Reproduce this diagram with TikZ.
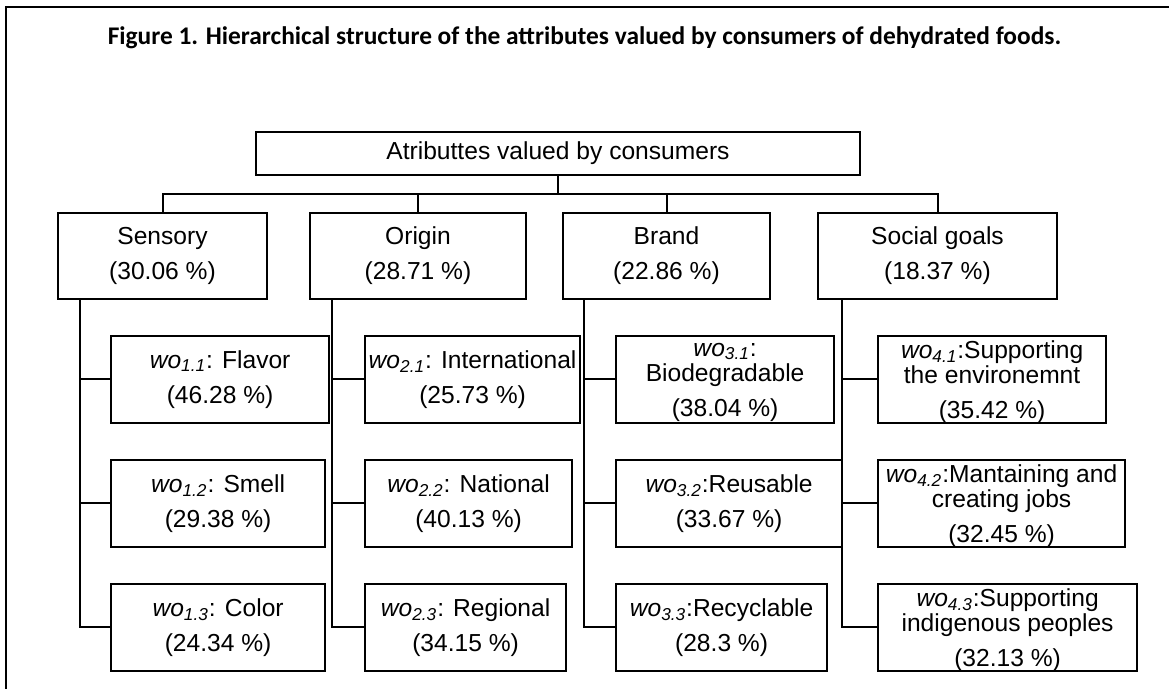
\documentclass[tikz,border=0pt]{standalone}
\usepackage{fontspec}
\setmainfont{Liberation Sans}
\newfontfamily\titlefont{Carlito}
\newcommand{\wo}[1]{\textit{wo\textsubscript{#1}}}
\tikzset{
  box/.style = {draw, line width=1.1pt, rectangle, align=center, inner sep=1pt,
    minimum height=43.5pt, font=\fontsize{12.3pt}{12.5pt}\selectfont},
  low/.style = {text depth=-2.4pt},
  link/.style = {line width=1pt},
}
\begin{document}
\begin{tikzpicture}[x=0.5pt, y=-0.5pt]
        \useasboundingbox (0,0) rectangle (1169,689);
        \draw [line width=0.6pt] (6,689) -- (6,7) -- (1169,7);
        \node (title) at (584.5,38) {\titlefont\bfseries\fontsize{12.7pt}{14pt}\selectfont
          Figure 1. Hierarchical structure of the attributes valued by consumers of dehydrated foods.};
        % top levels
        \node [box, minimum width=302pt, minimum height=21.5pt] (root) at (558,153.5) {Atributtes valued by consumers};
        \node [box, minimum width=104.5pt, minimum height=43pt] (sens) at (162.5,256) {Sensory\\[5pt](30.06 \%)};
        \node [box, minimum width=108pt, minimum height=43pt] (orig) at (418,256) {Origin\\[5pt](28.71 \%)};
        \node [box, minimum width=103.5pt, minimum height=43pt] (brand) at (666.5,256) {Brand\\[5pt](22.86 \%)};
        \node [box, minimum width=119.5pt, minimum height=43pt] (soc) at (937.5,256) {Social goals\\[5pt](18.37 \%)};
        % sensory
        \node [box, anchor=west, minimum width=109pt] (c11) at (110,379.5) {\wo{1.1}: Flavor\\[5pt](46.28 \%)};
        \node [box, anchor=west, minimum width=107pt] (c12) at (110,503.5) {\wo{1.2}: Smell\\[5pt](29.38 \%)};
        \node [box, anchor=west, minimum width=107pt] (c13) at (110,627.5) {\wo{1.3}: Color\\[5pt](24.34 \%)};
        % origin
        \node [box, anchor=west, minimum width=107.5pt] (c21) at (364,379.5) {\wo{2.1}: International\\[5pt](25.73 \%)};
        \node [box, anchor=west, minimum width=103.5pt] (c22) at (364,503.5) {\wo{2.2}: National\\[5pt](40.13 \%)};
        \node [box, anchor=west, minimum width=100.5pt] (c23) at (364,627.5) {\wo{2.3}: Regional\\[5pt](34.15 \%)};
        % brand
        \node [box, low, anchor=west, minimum width=109pt] (c31) at (615,379.5) {\wo{3.1}:\\Biodegradable\\[5pt](38.04 \%)};
        \node [box, anchor=west, minimum width=113pt] (c32) at (615,503.5) {\wo{3.2}:Reusable\\[5pt](33.67 \%)};
        \node [box, anchor=west, minimum width=105.5pt] (c33) at (615,627.5) {\wo{3.3}:Recyclable\\[5pt](28.3 \%)};
        % social goals
        \node [box, low, anchor=west, minimum width=114pt] (c41) at (877,379.5) {\wo{4.1}:Supporting\\the environemnt\\[5pt](35.42 \%)};
        \node [box, low, anchor=west, minimum width=123.5pt] (c42) at (877,503.5) {\wo{4.2}:Mantaining and\\creating jobs\\[5pt](32.45 \%)};
        \node [box, low, anchor=west, minimum width=129.5pt] (c43) at (877,627.5) {\wo{4.3}:Supporting\\indigenous peoples\\[5pt](32.13 \%)};
        % bus
        \coordinate (bus) at (0,194);
        \draw [link] (sens.north) |- (soc.north |- bus) -- (soc.north);
        \draw [link] (root.south) -- (root.south |- bus);
        \draw [link] (orig.north) -- (orig.north |- bus);
        \draw [link] (brand.north) -- (brand.north |- bus);
        % trunks
        \coordinate (t1) at (80,0);
        \coordinate (t2) at (332,0);
        \coordinate (t3) at (584,0);
        \coordinate (t4) at (842,0);
        \draw [link] (sens.south -| t1) |- (c13.west);
        \draw [link] (c11.west -| t1) -- (c11.west);
        \draw [link] (c12.west -| t1) -- (c12.west);
        \draw [link] (orig.south -| t2) |- (c23.west);
        \draw [link] (c21.west -| t2) -- (c21.west);
        \draw [link] (c22.west -| t2) -- (c22.west);
        \draw [link] (brand.south -| t3) |- (c33.west);
        \draw [link] (c31.west -| t3) -- (c31.west);
        \draw [link] (c32.west -| t3) -- (c32.west);
        \draw [link] (soc.south -| t4) |- (c43.west);
        \draw [link] (c41.west -| t4) -- (c41.west);
        \draw [link] (c42.west -| t4) -- (c42.west);
\end{tikzpicture}
\end{document}
